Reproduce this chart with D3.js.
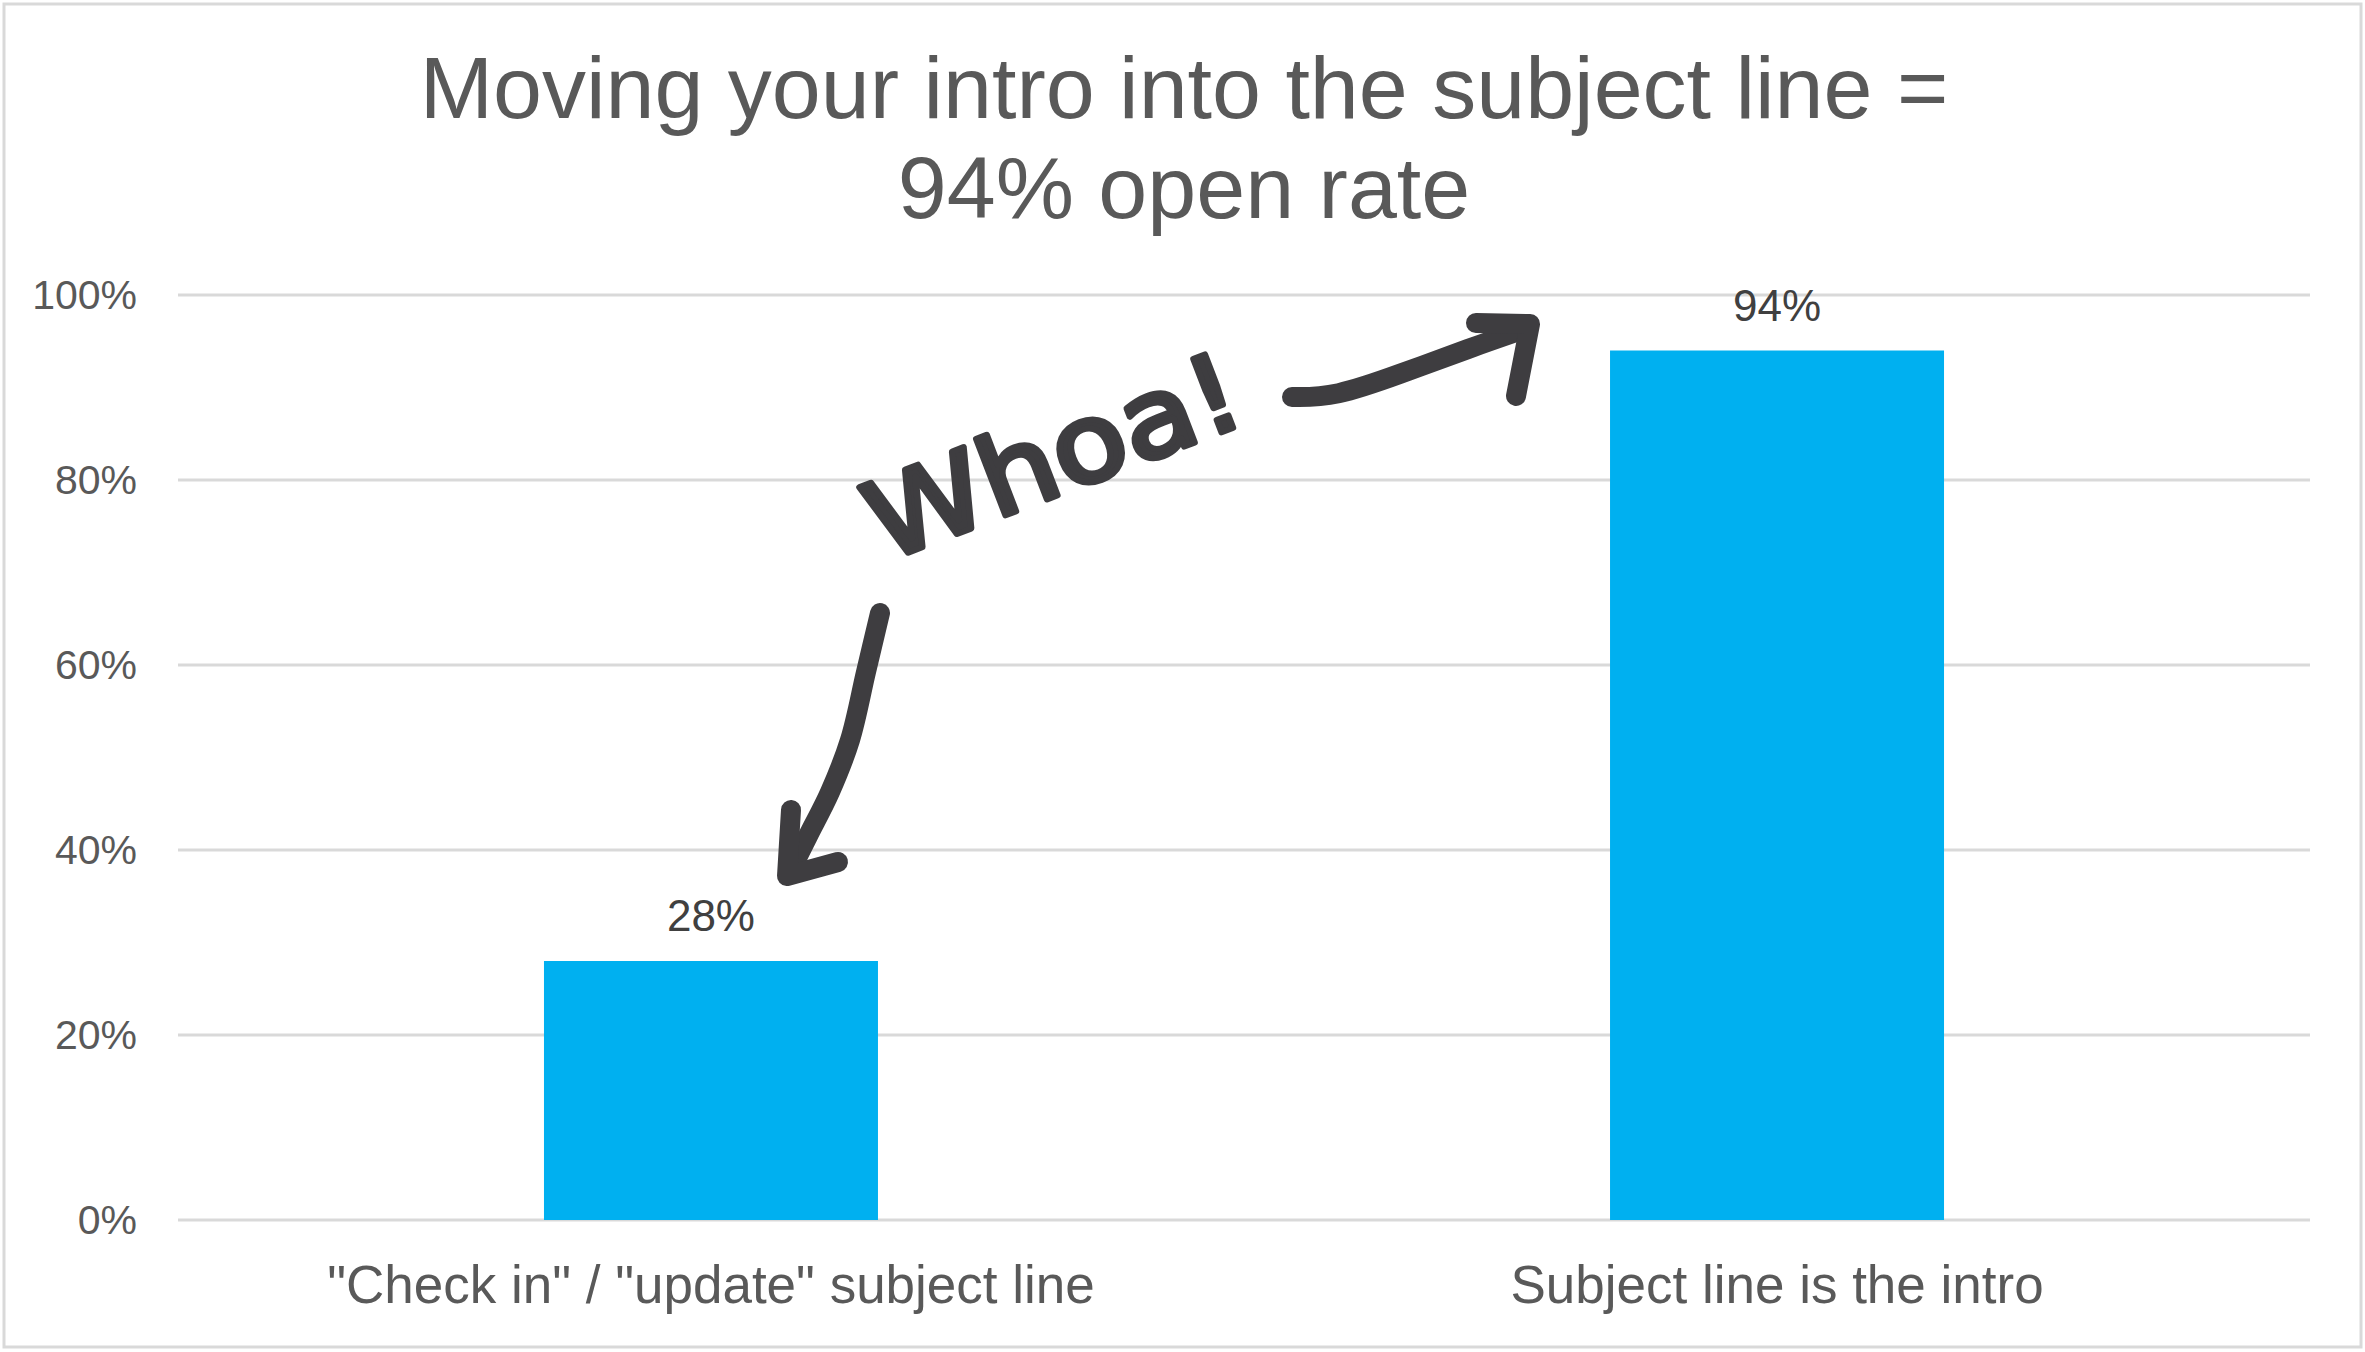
<!DOCTYPE html>
<html>
<head>
<meta charset="utf-8">
<script src="https://cdn.jsdelivr.net/npm/d3@7"></script>
<style>
  html, body { margin: 0; padding: 0; background: #ffffff; }
  svg { display: block; }
</style>
</head>
<body>
<svg id="chart" width="2365" height="1352"></svg>
<script>
// ---- data ----
const titleLines = ["Moving your intro into the subject line =", "94% open rate"];
const categories = ["\"Check in\" / \"update\" subject line", "Subject line is the intro"];
const values = [0.28, 0.94];
const valueLabels = ["28%", "94%"];
const yTicks = [0, 0.2, 0.4, 0.6, 0.8, 1.0];
const yTickLabels = ["0%", "20%", "40%", "60%", "80%", "100%"];
const annotationText = "Whoa!";

// ---- layout ----
const W = 2365, H = 1352;
const plot = { left: 178, right: 2310, top: 295, bottom: 1220 };
const FONT = "'Liberation Sans', Arial, sans-serif";
const svg = d3.select("#chart");

svg.append("rect").attr("x", 0).attr("y", 0).attr("width", W).attr("height", H).attr("fill", "#fff");
svg.append("rect").attr("x", 4).attr("y", 4).attr("width", W - 8).attr("height", H - 9)
  .attr("fill", "none").attr("stroke", "#d9d9d9").attr("stroke-width", 3);

const x = d3.scaleBand().domain(categories).range([plot.left, plot.right])
  .paddingInner(0.6867).paddingOuter(0.3433);
const y = d3.scaleLinear().domain([0, 1]).range([plot.bottom, plot.top]);

// title
svg.append("g").selectAll("text").data(titleLines).join("text")
  .attr("x", 1184).attr("y", (d, i) => 118 + i * 100)
  .attr("text-anchor", "middle").attr("font-family", FONT).attr("font-size", 88)
  .attr("fill", "#595959").text(d => d);

// gridlines
svg.append("g").selectAll("line").data(yTicks).join("line")
  .attr("x1", plot.left).attr("x2", plot.right)
  .attr("y1", d => y(d)).attr("y2", d => y(d))
  .attr("stroke", "#d9d9d9").attr("stroke-width", 3);

// y axis labels
const yAxis = d3.axisLeft(y).tickValues(yTicks).tickFormat((d, i) => yTickLabels[i]).tickSize(0).tickPadding(41);
const gy = svg.append("g").attr("transform", `translate(${plot.left},0)`).call(yAxis);
gy.select(".domain").remove();
gy.selectAll("text").attr("font-family", FONT).attr("font-size", 41).attr("fill", "#595959");

// bars
svg.append("g").selectAll("rect").data(values).join("rect")
  .attr("x", (d, i) => x(categories[i])).attr("width", x.bandwidth())
  .attr("y", d => y(d)).attr("height", d => y(0) - y(d))
  .attr("fill", "#00b0f0");

// value labels
svg.append("g").selectAll("text").data(values).join("text")
  .attr("x", (d, i) => x(categories[i]) + x.bandwidth() / 2)
  .attr("y", d => y(d) - 30)
  .attr("text-anchor", "middle").attr("font-family", FONT).attr("font-size", 44)
  .attr("fill", "#404040").text((d, i) => valueLabels[i]);

// x axis labels
const xAxis = d3.axisBottom(x).tickSize(0).tickPadding(0);
const gx = svg.append("g").attr("transform", `translate(0,${plot.bottom})`).call(xAxis);
gx.select(".domain").remove();
gx.selectAll("text").attr("font-family", FONT).attr("font-size", 53).attr("fill", "#595959")
  .attr("dy", null).attr("y", 83);

// ---- hand-drawn annotation ----
const ink = "#3e3d40";
const ann = svg.append("g").attr("fill", "none").attr("stroke", ink)
  .attr("stroke-width", 20).attr("stroke-linecap", "round").attr("stroke-linejoin", "round");

// right arrow toward tall bar
ann.append("path").attr("d", d3.line().curve(d3.curveBasis)(
  [[1292, 397], [1335, 397], [1400, 374], [1470, 348], [1528, 328]]));
ann.append("path").attr("d", d3.line()([[1476, 323], [1530, 324], [1516, 396]]));

// down arrow toward short bar
ann.append("path").attr("d", d3.line().curve(d3.curveCatmullRom.alpha(0.5))(
  [[880, 613], [866, 672], [850, 740], [830, 792], [808, 836], [789, 874]]));
ann.append("path").attr("d", d3.line()([[791, 810], [787, 876], [838, 862]]));

// "Whoa!" text
svg.append("text")
  .attr("transform", "translate(884,562) rotate(-21)")
  .attr("font-family", "'DejaVu Sans', sans-serif")
  .attr("font-size", 108).attr("textLength", 392).attr("lengthAdjust", "spacingAndGlyphs")
  .attr("fill", ink).attr("stroke", ink).attr("stroke-width", 6)
  .attr("stroke-linejoin", "round").attr("stroke-linecap", "round")
  .text(annotationText);
</script>
</body>
</html>
